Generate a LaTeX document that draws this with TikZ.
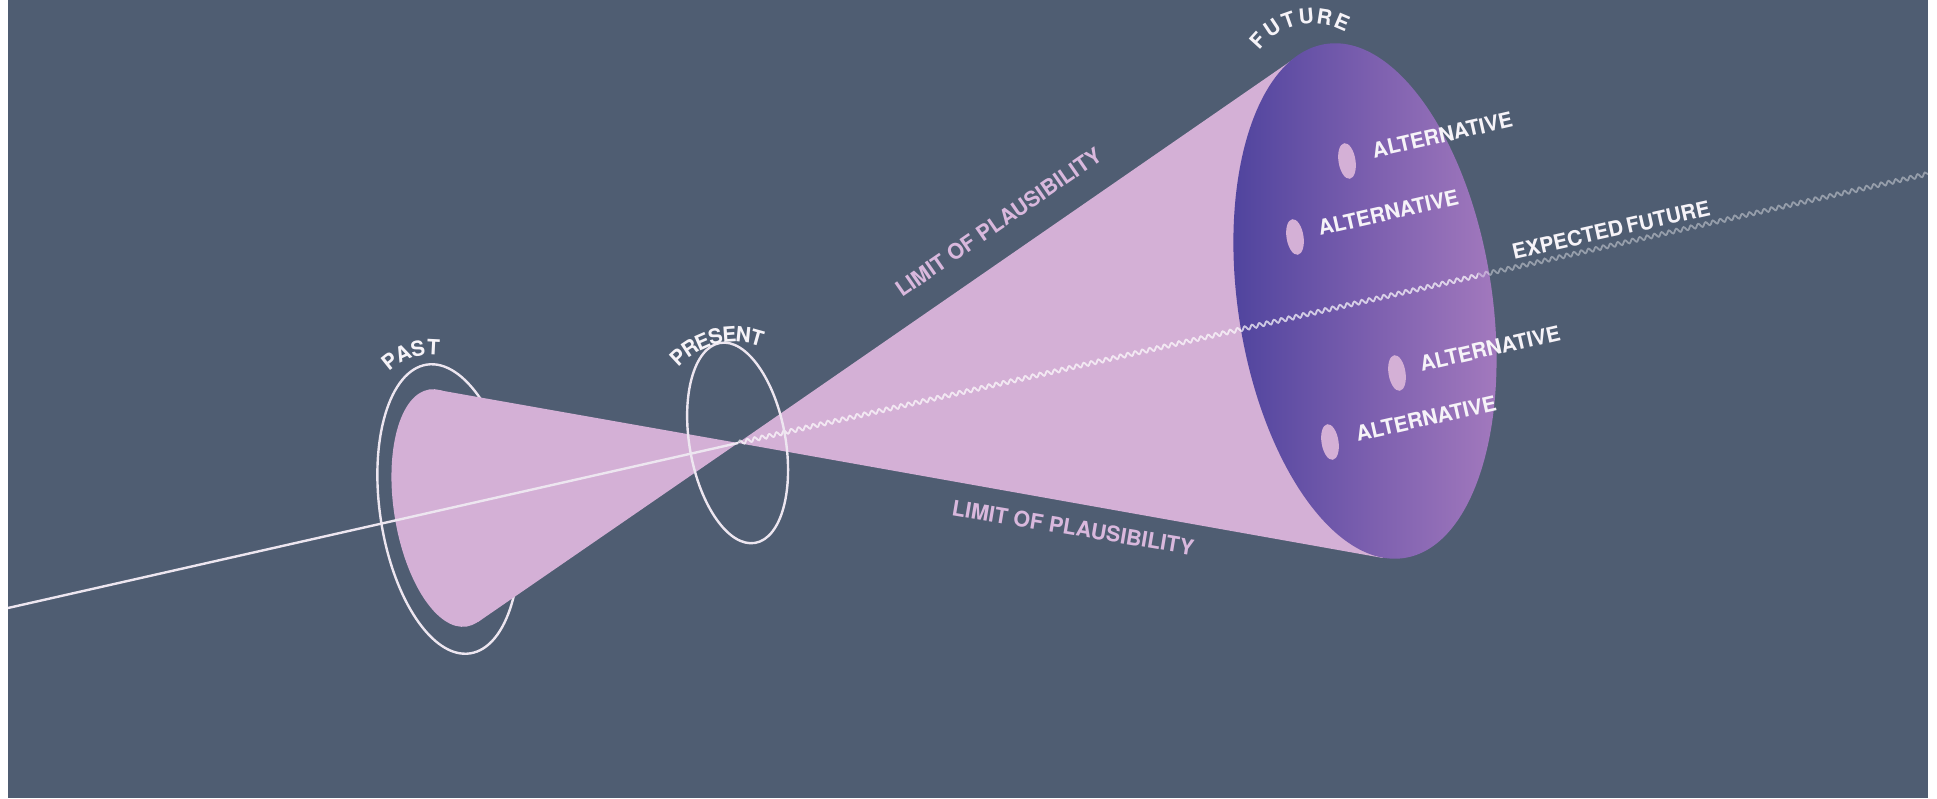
\documentclass[tikz,border=0pt]{standalone}
\usepackage{fontspec}
\setmainfont{TeX Gyre Heros}
\usetikzlibrary{decorations.pathmorphing}
\definecolor{bgc}{HTML}{4F5D72}
\definecolor{conepink}{HTML}{D4B0D6}
\definecolor{discL}{HTML}{4B419C}
\definecolor{discM}{HTML}{7A5EAE}
\definecolor{discR}{HTML}{A77CBF}
\definecolor{limitc}{HTML}{D9B8DD}
\definecolor{labelc}{HTML}{F6F3F8}
\definecolor{ringc}{HTML}{EDE6F0}
\begin{document}
\begin{tikzpicture}[x=1pt,y=1pt,
  ring/.style={draw=ringc, line width=2.4pt},
  lbl/.style={text=labelc, font=\fontsize{21}{25}\selectfont\bfseries, inner sep=0pt},
  limitlbl/.style={text=limitc, font=\fontsize{21.5}{25}\selectfont\bfseries, inner sep=0pt, anchor=base west},
  alt/.style={lbl, anchor=base west, rotate=12.8},
  dotshape/.style={fill=conepink},
  axisline/.style={draw=ringc, line width=2.4pt},
  wave/.style={draw=white, line width=1.8pt, decorate,
    decoration={snake, segment length=7.5pt, amplitude=2pt}}
]
\useasboundingbox (0,0) rectangle (1937,798);
\fill[white] (0,0) rectangle (1937,798);
\fill[bgc] (8,0) rectangle (1928,798);

% key points
\coordinate (apex) at (738,355);
\coordinate (axL) at (8,190);
\coordinate (axR) at (1928,624.2);
\coordinate (pastc) at (448,290);
\coordinate (pastT1) at (438,408);
\coordinate (pastT2) at (478,176);
\coordinate (pastring) at (448.5,289);
\coordinate (presring) at (737.5,355);
\coordinate (fc) at (1365,497);
\coordinate (futT1) at (1298,742);
\coordinate (futT2) at (1383,240);

% past ring (behind cone)
\draw[ring, rotate around={8.5:(pastring)}] (pastring) ellipse [x radius=68.5, y radius=146];

% past cone
\fill[conepink, rotate around={9:(pastc)}] (pastc) ellipse [x radius=54, y radius=120];
\fill[conepink] (apex) -- (pastT1) -- (pastT2) -- cycle;

% future cone
\fill[conepink] (apex) -- (futT1) -- (futT2) -- cycle;
\shade[left color=discL, right color=discR, middle color=discM, rotate around={8.7:(fc)}]
  (fc) ellipse [x radius=127, y radius=260];

% alternative dots
\foreach \p [count=\k] in {(1347,637),(1295,561),(1397,425),(1330,356)} {
  \fill[dotshape] \p coordinate (dot\k) ellipse [x radius=8.5, y radius=18, rotate=9];
}

% axis
\draw[axisline] (axL) -- (apex);
\draw[wave, draw opacity=0.4] (apex) -- (axR);
\begin{scope}
  \clip (700,0) rectangle (1478,798);
  \draw[wave, draw opacity=0.5] (apex) -- (axR);
\end{scope}

% present ring (in front)
\draw[ring, rotate around={10:(presring)}] (presring) ellipse [x radius=48, y radius=101.5];

% labels
\node[alt] (alt1) at (1374,639.7) {ALTERNATIVE};
\node[alt] (alt2) at (1320,562) {ALTERNATIVE};
\node[alt] (alt3) at (1421.7,426.3) {ALTERNATIVE};
\node[alt] (alt4) at (1357.7,356.3) {ALTERNATIVE};
\node[lbl, anchor=base west, rotate=12.6] (exp) at (1514,538.7) {EXPECTED\,FUTURE};
\node[limitlbl, rotate=34.6] (lim1) at (902,500) {LIMIT OF PLAUSIBILITY};
\node[limitlbl, rotate=-9.5] (lim2) at (951,283) {LIMIT OF PLAUSIBILITY};

% curved labels
\coordinate (futc) at (1313,708);
\foreach \ch [count=\i from 0] in {F,U,T,U,R,E} {
  \pgfmathsetmacro\ang{137.7-14.16*\i}
  \pgfmathsetmacro\rot{\ang-90}
  \node[lbl, rotate=\rot] (fut\i) at ([shift={(\ang:74)}]futc) {\ch};
}
\coordinate (pastlc) at (430,386);
\foreach \ch [count=\i from 0] in {P,A,S,T} {
  \pgfmathsetmacro\ang{128.5-13.8*\i}
  \pgfmathsetmacro\rot{\ang-90}
  \node[lbl, rotate=\rot] (past\i) at ([shift={(\ang:65)}]pastlc) {\ch};
}
\coordinate (preslc) at (735,381);
\foreach \ch [count=\i from 0] in {P,R,E,S,E,N,T} {
  \pgfmathsetmacro\ang{133-9.77*\i}
  \pgfmathsetmacro\rot{\ang-90}
  \node[lbl, rotate=\rot] (pres\i) at ([shift={(\ang:82.5)}]preslc) {\ch};
}
\end{tikzpicture}
\end{document}
